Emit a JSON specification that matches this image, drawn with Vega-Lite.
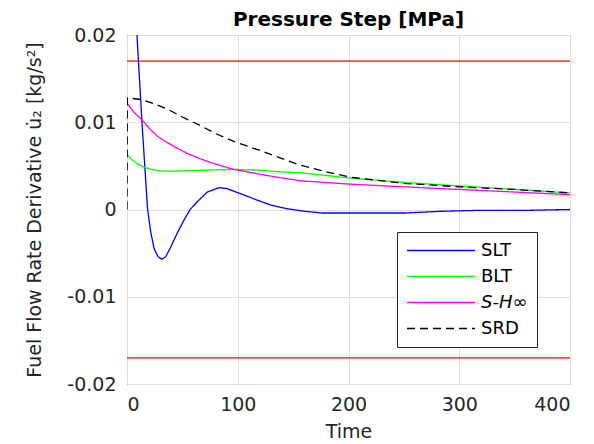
{
  "$schema": "https://vega.github.io/schema/vega-lite/v6.json",
  "autosize": {"type": "none"},
  "padding": {"left": 127, "top": 35, "right": 24, "bottom": 60},
  "width": 443,
  "height": 349,
  "background": "white",
  "config": {
    "font": "DejaVu Sans",
    "view": {"stroke": "#262626", "strokeWidth": 1},
    "axis": {"labelColor": "#262626", "titleColor": "#262626", "domain": false, "gridColor": "#dedede", "labelFontSize": 19, "titleFontSize": 19, "titleFontWeight": "normal", "ticks": false, "labelFont": "DejaVu Sans", "titleFont": "DejaVu Sans"},
    "legend": {"labelFont": "DejaVu Sans", "labelFontSize": 18, "labelColor": "#000000", "strokeColor": "#262626", "fillColor": "#ffffff", "padding": 9, "symbolType": "M-1,0H7", "symbolSize": 289, "symbolStrokeWidth": 1.3, "labelOffset": 56, "rowPadding": 7}
  },
  "title": {"text": "Pressure Step [MPa]", "fontSize": 20, "fontWeight": "bold", "color": "#000000", "offset": -4, "font": "DejaVu Sans"},
  "layer": [
    {
      "data": {"values": [{"v": 0.017}, {"v": -0.017}]},
      "mark": {"type": "rule", "color": "#ff0000", "strokeWidth": 1.2},
      "encoding": {"y": {"field": "v", "type": "quantitative", "scale": {"domain": [-0.02, 0.02]}}}
    },
    {
      "data": {"values": [
        {"s": "SLT", "t": 0, "v": 0.045},
        {"s": "SLT", "t": 4, "v": 0.033},
        {"s": "SLT", "t": 9, "v": 0.020},
        {"s": "SLT", "t": 13.5, "v": 0.010},
        {"s": "SLT", "t": 18.6, "v": 0.0},
        {"s": "SLT", "t": 21.6, "v": -0.0027},
        {"s": "SLT", "t": 24.5, "v": -0.0045},
        {"s": "SLT", "t": 28, "v": -0.0054},
        {"s": "SLT", "t": 31.4, "v": -0.0057},
        {"s": "SLT", "t": 35, "v": -0.0054},
        {"s": "SLT", "t": 39.5, "v": -0.0043},
        {"s": "SLT", "t": 45, "v": -0.0028},
        {"s": "SLT", "t": 51.5, "v": -0.0012},
        {"s": "SLT", "t": 57, "v": 0.0},
        {"s": "SLT", "t": 63.5, "v": 0.0009},
        {"s": "SLT", "t": 72.5, "v": 0.0020},
        {"s": "SLT", "t": 83, "v": 0.0025},
        {"s": "SLT", "t": 90, "v": 0.0024},
        {"s": "SLT", "t": 96.4, "v": 0.0021},
        {"s": "SLT", "t": 107, "v": 0.0016},
        {"s": "SLT", "t": 117, "v": 0.0011},
        {"s": "SLT", "t": 130, "v": 0.0005},
        {"s": "SLT", "t": 144, "v": 0.0001},
        {"s": "SLT", "t": 160, "v": -0.0002},
        {"s": "SLT", "t": 176, "v": -0.0004},
        {"s": "SLT", "t": 200, "v": -0.0004},
        {"s": "SLT", "t": 251, "v": -0.0004},
        {"s": "SLT", "t": 285, "v": -0.0002},
        {"s": "SLT", "t": 317, "v": -0.0001},
        {"s": "SLT", "t": 360, "v": -0.0001},
        {"s": "SLT", "t": 400, "v": 0.0},
        {"s": "BLT", "t": 0, "v": 0.0063},
        {"s": "BLT", "t": 4, "v": 0.0058},
        {"s": "BLT", "t": 9.6, "v": 0.0052},
        {"s": "BLT", "t": 15, "v": 0.0049},
        {"s": "BLT", "t": 21.6, "v": 0.0046},
        {"s": "BLT", "t": 31.4, "v": 0.0044},
        {"s": "BLT", "t": 45, "v": 0.0044},
        {"s": "BLT", "t": 66.5, "v": 0.0045},
        {"s": "BLT", "t": 96.4, "v": 0.0046},
        {"s": "BLT", "t": 120, "v": 0.0045},
        {"s": "BLT", "t": 141, "v": 0.0043},
        {"s": "BLT", "t": 157, "v": 0.0042},
        {"s": "BLT", "t": 180, "v": 0.0039},
        {"s": "BLT", "t": 202, "v": 0.0036},
        {"s": "BLT", "t": 250, "v": 0.0031},
        {"s": "BLT", "t": 300, "v": 0.0027},
        {"s": "BLT", "t": 350, "v": 0.0023},
        {"s": "BLT", "t": 400, "v": 0.0019},
        {"s": "S-H∞", "t": 0, "v": 0.0122},
        {"s": "S-H∞", "t": 6.6, "v": 0.0111},
        {"s": "S-H∞", "t": 13.5, "v": 0.0103},
        {"s": "S-H∞", "t": 20, "v": 0.0093},
        {"s": "S-H∞", "t": 27.6, "v": 0.0084},
        {"s": "S-H∞", "t": 36, "v": 0.0077},
        {"s": "S-H∞", "t": 45.6, "v": 0.0070},
        {"s": "S-H∞", "t": 55, "v": 0.0064},
        {"s": "S-H∞", "t": 66.5, "v": 0.0058},
        {"s": "S-H∞", "t": 80, "v": 0.0052},
        {"s": "S-H∞", "t": 96.4, "v": 0.0046},
        {"s": "S-H∞", "t": 126, "v": 0.0039},
        {"s": "S-H∞", "t": 156, "v": 0.0033},
        {"s": "S-H∞", "t": 202, "v": 0.0029},
        {"s": "S-H∞", "t": 250, "v": 0.0026},
        {"s": "S-H∞", "t": 300, "v": 0.0023},
        {"s": "S-H∞", "t": 350, "v": 0.0020},
        {"s": "S-H∞", "t": 400, "v": 0.0017},
        {"s": "SRD", "t": 0, "v": 0.0},
        {"s": "SRD", "t": 0.3, "v": 0.0128},
        {"s": "SRD", "t": 12.6, "v": 0.0126},
        {"s": "SRD", "t": 25, "v": 0.0121},
        {"s": "SRD", "t": 36.6, "v": 0.0115},
        {"s": "SRD", "t": 50, "v": 0.0106},
        {"s": "SRD", "t": 66.5, "v": 0.0096},
        {"s": "SRD", "t": 80, "v": 0.0087},
        {"s": "SRD", "t": 96.4, "v": 0.0078},
        {"s": "SRD", "t": 126, "v": 0.0065},
        {"s": "SRD", "t": 156, "v": 0.0051},
        {"s": "SRD", "t": 180, "v": 0.0043},
        {"s": "SRD", "t": 202, "v": 0.0037},
        {"s": "SRD", "t": 250, "v": 0.0030},
        {"s": "SRD", "t": 300, "v": 0.0026},
        {"s": "SRD", "t": 350, "v": 0.0023},
        {"s": "SRD", "t": 400, "v": 0.0019}
      ]},
      "mark": {"type": "line", "clip": true, "strokeWidth": 1.3},
      "encoding": {
        "x": {"field": "t", "type": "quantitative", "title": "Time", "scale": {"domain": [0, 400], "nice": false}, "axis": {"values": [0, 100, 200, 300, 400], "labelPadding": 11, "titlePadding": 8}},
        "y": {"field": "v", "type": "quantitative", "title": "Fuel Flow Rate Derivative u̇₂ [kg/s²]", "scale": {"domain": [-0.02, 0.02], "nice": false}, "axis": {"values": [-0.02, -0.01, 0, 0.01, 0.02], "labelExpr": "datum.value == 0 ? '0' : (datum.value < 0 ? '-' : '') + format(abs(datum.value), '.2f')", "labelPadding": 11, "titlePadding": 22}},
        "color": {"field": "s", "type": "nominal", "title": null, "scale": {"domain": ["SLT", "BLT", "S-H∞", "SRD"], "range": ["#0000ff", "#00ff00", "#ff00ff", "#000000"]}, "legend": {"orient": "none", "legendX": 270, "legendY": 197, "labelExpr": "datum.label == 'S-H∞' ? ' S-H∞  ' : datum.label", "labelFontStyle": {"expr": "datum.label == 'S-H∞' ? 'italic' : 'normal'"}}},
        "strokeDash": {"field": "s", "type": "nominal", "title": null, "scale": {"domain": ["SLT", "BLT", "S-H∞", "SRD"], "range": [[1, 0], [1, 0], [1, 0], [8, 5]]}, "legend": {"orient": "none", "legendX": 270, "legendY": 197, "labelExpr": "datum.label == 'S-H∞' ? ' S-H∞  ' : datum.label", "labelFontStyle": {"expr": "datum.label == 'S-H∞' ? 'italic' : 'normal'"}}},
        "strokeWidth": {"field": "s", "type": "nominal", "legend": null, "scale": {"domain": ["SLT", "BLT", "S-H∞", "SRD"], "range": [1.3, 1.3, 1.3, 2]}}
      }
    }
  ]
}
